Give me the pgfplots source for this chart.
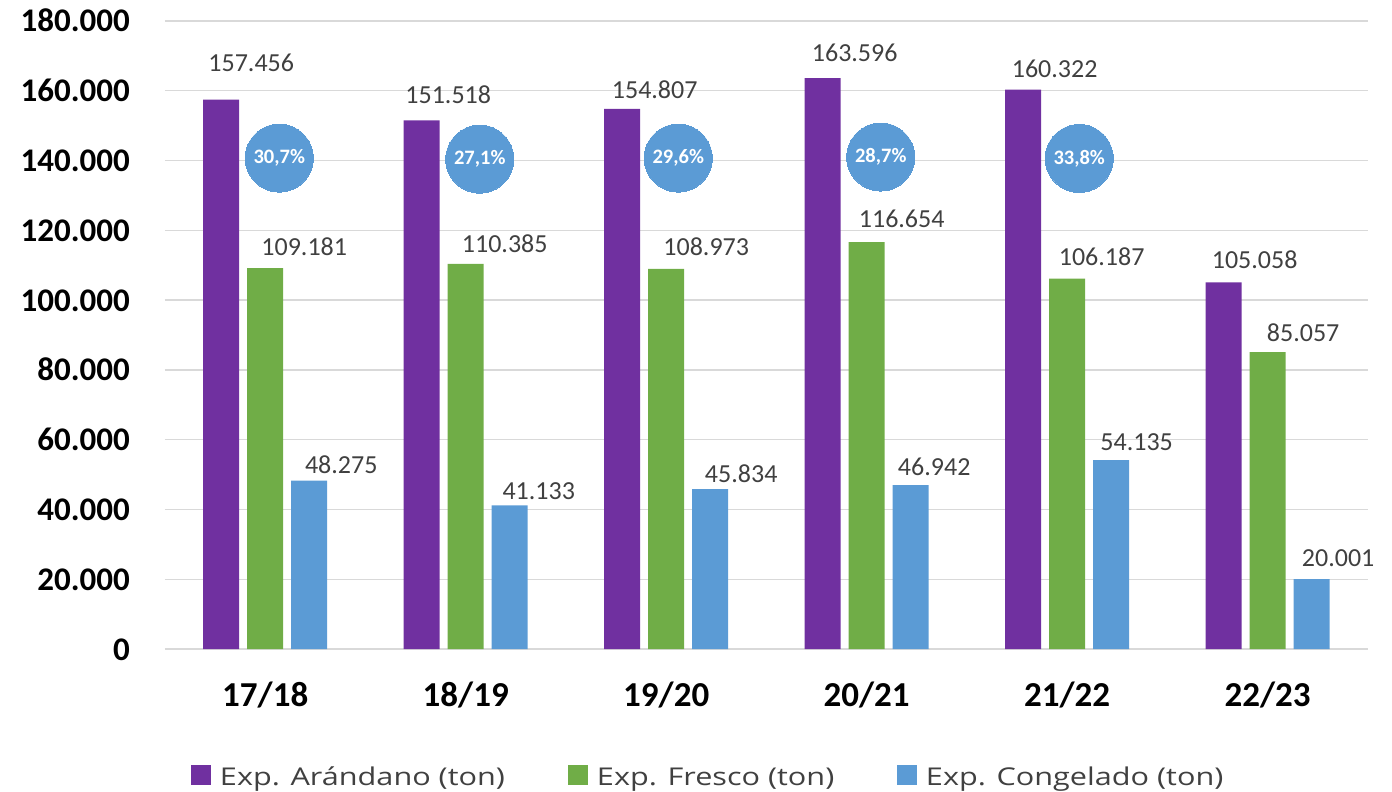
\documentclass[border=0pt]{standalone}
\usepackage{fontspec}
\setmainfont{Carlito}
\newfontfamily\legfont{Open Sans}[FakeStretch=1.25]
\usepackage{pgfplots}
\pgfplotsset{compat=1.18}
\definecolor{cpurple}{HTML}{7030A0}
\definecolor{cgreen}{HTML}{70AD47}
\definecolor{cblue}{HTML}{5B9BD5}
\definecolor{cgrid}{HTML}{D9D9D9}
\definecolor{ctext}{HTML}{404040}
\pgfplotsset{
  lbl/.style={every node near coord/.append style={anchor=center, inner sep=0pt,
      xshift=\dx pt, yshift=\dy pt, font=\fontsize{26}{30}\selectfont, text=ctext}},
}
\begin{document}
\begin{tikzpicture}
\path[use as bounding box] (-165pt,-143pt) rectangle (1227pt,649pt);
\begin{axis}[
  at={(0pt,0pt)}, anchor=south west,
  scale only axis, width=1203pt, height=628pt,
  ybar=8pt, bar width=36pt,
  xmin=-0.5, xmax=5.5, ymin=0, ymax=180000,
  xtick={0,1,2,3,4,5},
  xticklabels={17/18,18/19,19/20,20/21,21/22,22/23},
  ytick={0,20000,40000,60000,80000,100000,120000,140000,160000,180000},
  yticklabels={0,20.000,40.000,60.000,80.000,100.000,120.000,140.000,160.000,180.000},
  scaled y ticks=false,
  axis line style={draw=none},
  major tick length=0pt,
  ymajorgrids, grid style={cgrid, line width=1.3pt},
  xticklabel style={font=\fontsize{35}{40}\selectfont\bfseries, anchor=base, yshift=-57pt},
  yticklabel style={font=\fontsize{33}{38}\selectfont\bfseries, anchor=base east, inner sep=0pt, xshift=-35pt, yshift=-11pt},
  clip=false,
  nodes near coords,
  point meta=explicit symbolic,
  visualization depends on={\thisrow{dx} \as \dx},
  visualization depends on={\thisrow{dy} \as \dy},
  legend columns=3,
  legend style={at={(0.0216,-0.2022)}, anchor=west, draw=none, fill=none,
    inner sep=0pt, outer sep=0pt, column sep=0pt,
    font=\legfont\fontsize{24.5}{28}\selectfont, text=ctext,
    nodes={inner sep=0pt}, cells={anchor=base west}},
  legend image code/.code={\fill[#1, draw=none] (0pt,1pt) rectangle (20pt,21pt); \path (29pt,0pt);},
]
\addplot[fill=cpurple, draw=none, lbl] table[x=x, y=y, meta=lab] {
x y dx dy lab
0 157456 30 37 157.456
1 151518 26.5 26 151.518
2 154807 32.5 19 154.807
3 163596 32 25 163.596
4 160322 31.5 21 160.322
5 105058 31 23 105.058
};
\addlegendentry{\makebox[348pt][l]{Exp. Arándano (ton)}}
\addplot[fill=cgreen, draw=none, lbl] table[x=x, y=y, meta=lab] {
x y dx dy lab
0 109181 39 21 109.181
1 110385 39 20 110.385
2 108973 40 22 108.973
3 116654 35 23 116.654
4 106187 34.5 22 106.187
5 85057 35.5 20 85.057
};
\addlegendentry{\makebox[300pt][l]{Exp. Fresco (ton)}}
\addplot[fill=cblue, draw=none, lbl] table[x=x, y=y, meta=lab] {
x y dx dy lab
0 48275 32 16 48.275
1 41133 29 14 41.133
2 45834 31 15 45.834
3 46942 23.5 18 46.942
4 54135 25.5 18 54.135
5 20001 26.5 21 20.001
};
\addlegendentry{Exp. Congelado (ton)}
\end{axis}
\begin{axis}[
  at={(0pt,0pt)}, anchor=south west,
  scale only axis, width=1203pt, height=628pt,
  xmin=-0.5, xmax=5.5, ymin=0, ymax=180000,
  hide axis, clip=false]
\addplot[only marks, color=cblue, mark=*, mark size=34pt, mark options={fill=cblue, draw=cblue, line width=0pt},
  nodes near coords, point meta=explicit symbolic,
  every node near coord/.append style={anchor=center, inner sep=0pt, text=white,
    font=\fontsize{20.5}{24}\selectfont\bfseries}]
  table[x=x, y=y, meta=lab] {
x y lab
0.07 140700 30,7\%
1.07 140400 27,1\%
2.06 140700 29,6\%
3.07 141000 28,7\%
4.06 140600 33,8\%
};
\end{axis}
\end{tikzpicture}
\end{document}
